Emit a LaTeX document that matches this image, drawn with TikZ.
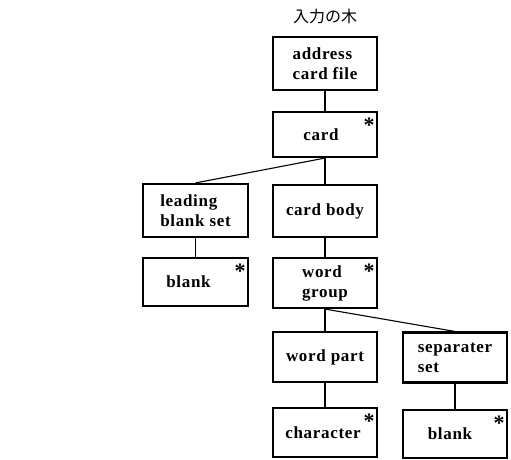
\documentclass[tikz,border=0pt]{standalone}
\usepackage{fontspec}
\setmainfont{Liberation Serif}[LetterSpace=4]
\newfontfamily\jpfont{Noto Sans CJK JP}
\begin{document}
\begin{tikzpicture}[x=1pt,y=-1pt,
  box/.style={draw, line width=2.1pt, minimum width=104pt, minimum height=50pt,
    inner sep=0pt, align=left, font=\bfseries\fontsize{17}{20}\selectfont},
  link/.style={line width=1.1pt},
  ast/.style={font=\bfseries\fontsize{22}{22}\selectfont, inner sep=0pt}]
\useasboundingbox (0,0) rectangle (511,460);

% title
\node (title) at (325,16) {\jpfont\fontsize{16}{16}\selectfont 入力の木};

% tree nodes
\node[box, minimum height=53pt] (file) at (325,63.5) {address\\card file};
\node[box, minimum height=45pt] (card) at (325,134.5) {\raisebox{-2pt}{card}\hspace*{8pt}};
\node[box, minimum height=53pt, minimum width=105pt] (lead) at (195.5,210.5) {leading\\blank set};
\node[box, minimum height=52pt] (body) at (325,211) {card body};
\node[box, minimum height=48pt, minimum width=105pt] (blankA) at (195.5,282) {\raisebox{-3pt}{blank}\hspace*{14pt}};
\node[box] (group) at (325,283) {word\\group};
\node[box] (part) at (325,357) {word part};
\node[box] (sep) at (455,357.5) {separater\\set};
\node[box, minimum height=49pt] (char) at (325,432.5) {\raisebox{-1pt}{character}\hspace*{4pt}};
\node[box, minimum height=48pt] (blankB) at (455,434) {\raisebox{-4pt}{blank}\hspace*{10pt}};

% repetition marks
\foreach \n in {card, blankA, group, char, blankB}
  \node[ast] (\n-ast) at ([xshift=-9pt,yshift=-14pt]\n.north east) {*};

% connectors
\draw[link] (file.south) -- (card.north);
\draw[link] (card.south) -- (lead.north);
\draw[link] (card.south) -- (body.north);
\draw[link] (lead.south) -- (blankA.north);
\draw[link] (body.south) -- (group.north);
\draw[link] (group.south) -- (part.north);
\draw[link] (group.south) -- (sep.north);
\draw[link] (part.south) -- (char.north);
\draw[link] (sep.south) -- (blankB.north);
\end{tikzpicture}
\end{document}
